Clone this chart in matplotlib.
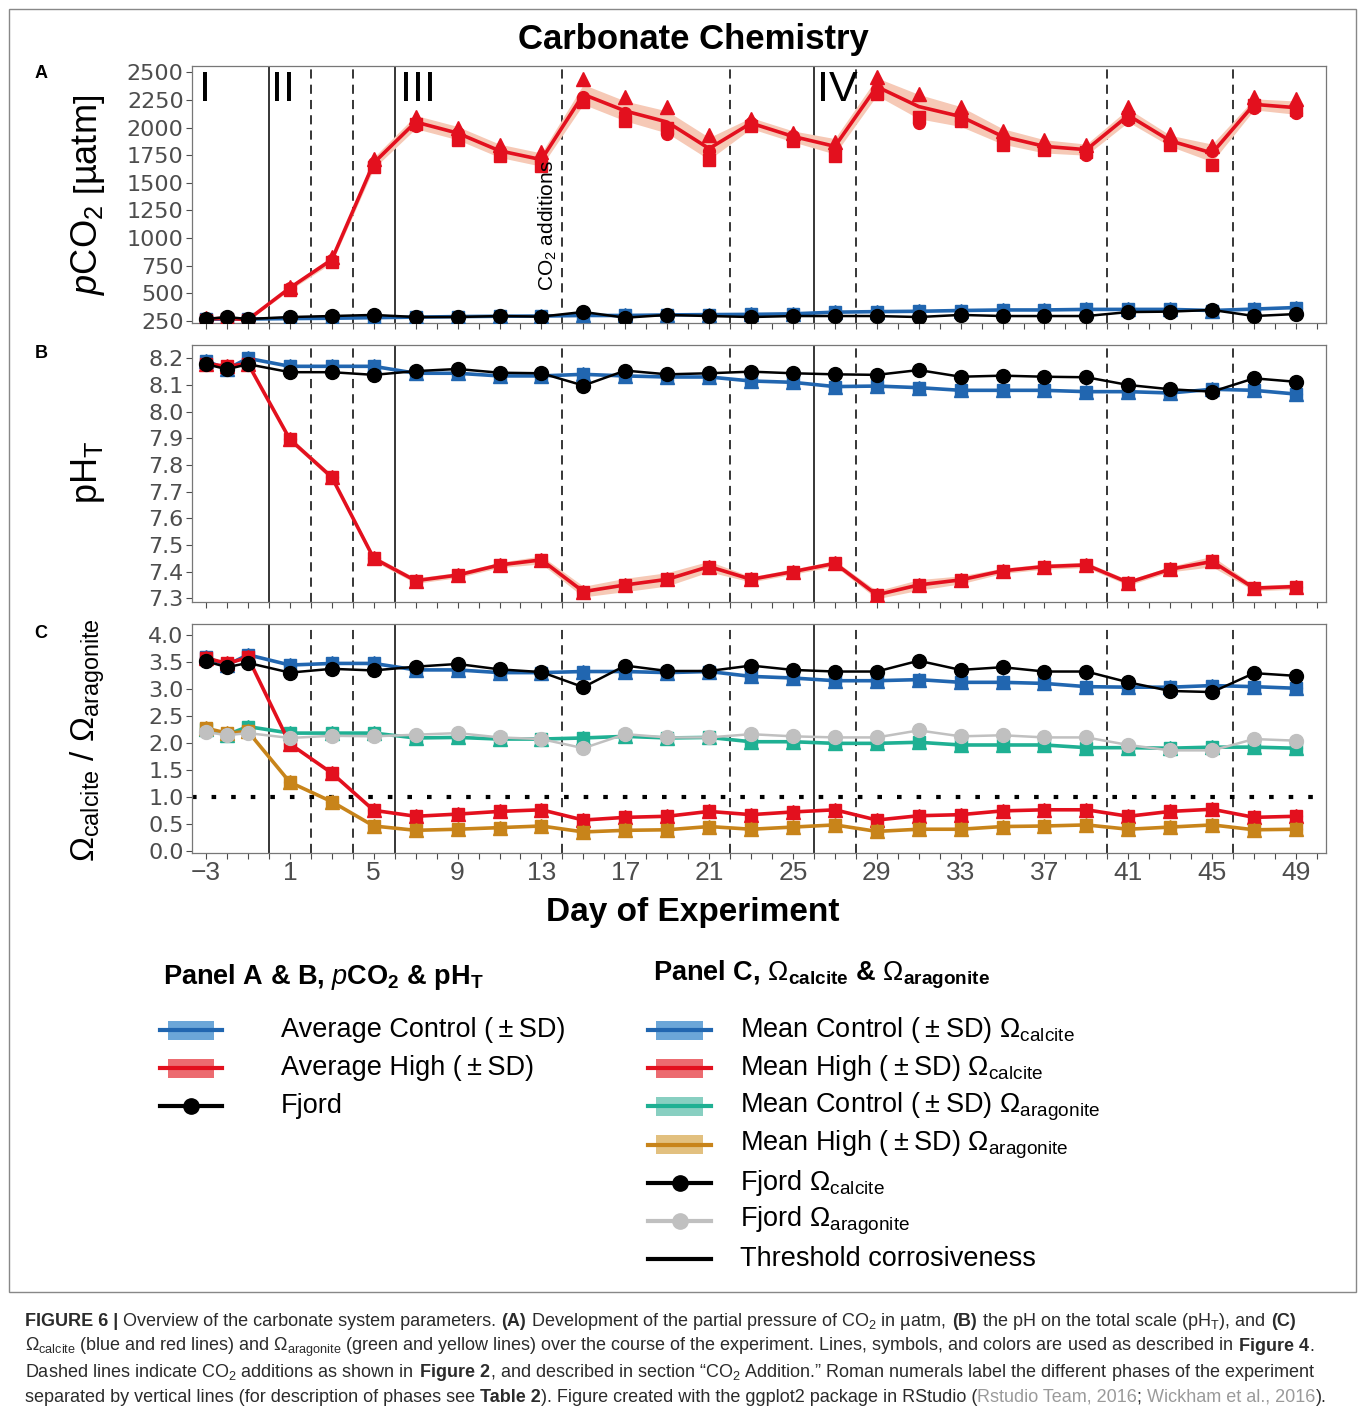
import numpy as np
import matplotlib
matplotlib.use("Agg")
import matplotlib.pyplot as plt
from matplotlib.patches import Rectangle
from matplotlib.lines import Line2D

matplotlib.rcParams['mathtext.fontset'] = 'custom'
matplotlib.rcParams['mathtext.rm'] = 'Liberation Sans'
matplotlib.rcParams['mathtext.it'] = 'Liberation Sans:italic'
matplotlib.rcParams['mathtext.bf'] = 'Liberation Sans:bold'

NARROW = ['Liberation Sans Narrow', 'Liberation Sans']
SANS = ['Liberation Sans', 'DejaVu Sans']

# ---------------------------------------------------------------- data
days = [-3, -2, -1, 1, 3, 5, 7, 9, 11, 13, 15, 17, 19, 21, 23, 25, 27, 29,
        31, 33, 35, 37, 39, 41, 43, 45, 47, 49]

# panel A, pCO2 (uatm)
ctrl_pco2 = [265, 268, 268, 272, 275, 280, 285, 290, 293, 295, 300, 300, 305, 308,
             310, 315, 330, 335, 338, 345, 350, 350, 355, 355, 355, 345, 358, 372]
high_pco2 = [268, 275, 262, 550, 805, 1680, 2050, 1950, 1790, 1710, 2300, 2150, 2050, 1810,
             2040, 1920, 1830, 2370, 2190, 2100, 1920, 1830, 1800, 2110, 1880, 1770, 2210, 2180]
high_pco2_sd = [10, 10, 10, 20, 30, 50, 60, 60, 60, 60, 90, 90, 100, 100,
                50, 50, 70, 80, 110, 90, 70, 60, 50, 60, 50, 80, 50, 60]
high_pco2_tri = [275, 280, 265, 560, 830, 1720, 2100, 2000, 1845, 1775, 2435, 2275, 2190, 1930,
                 2080, 1955, 1865, 2460, 2300, 2190, 1965, 1890, 1845, 2190, 1940, 1830, 2280, 2255]
high_pco2_sq = [262, 270, 258, 535, 780, 1640, 2030, 1890, 1740, 1650, 2230, 2055, 2000, 1710,
                2010, 1875, 1740, 2300, 2100, 2055, 1845, 1800, 1780, 2100, 1845, 1665, 2200, 2160]
high_pco2_circ = [265, 272, 262, 545, 800, 1680, 2010, 1950, 1790, 1700, 2280, 2130, 1940, 1790,
                  2040, 1920, 1800, 2350, 2045, 2060, 1900, 1810, 1755, 2070, 1870, 1790, 2180, 2135]
fjord_pco2 = [268, 286, 268, 286, 295, 305, 286, 286, 295, 290, 332, 280, 305, 295,
              286, 295, 295, 295, 286, 305, 295, 295, 295, 331, 335, 350, 295, 313]

# panel B, pH total scale
ctrl_ph = [8.19, 8.16, 8.20, 8.17, 8.17, 8.17, 8.144, 8.144, 8.134, 8.134, 8.14, 8.134, 8.13, 8.13,
           8.115, 8.11, 8.094, 8.096, 8.09, 8.08, 8.08, 8.08, 8.075, 8.075, 8.07, 8.084, 8.08, 8.066]
high_ph = [8.18, 8.17, 8.18, 7.896, 7.754, 7.45, 7.366, 7.387, 7.425, 7.444, 7.325, 7.35, 7.371, 7.419,
           7.371, 7.40, 7.431, 7.313, 7.35, 7.369, 7.403, 7.419, 7.425, 7.359, 7.409, 7.438, 7.338, 7.344]
high_ph_sd = [0.005, 0.005, 0.005, 0.01, 0.01, 0.01, 0.01, 0.01, 0.01, 0.015, 0.02, 0.025, 0.025, 0.02,
              0.01, 0.01, 0.01, 0.015, 0.02, 0.015, 0.01, 0.01, 0.01, 0.01, 0.01, 0.02, 0.01, 0.01]
fjord_ph = [8.178, 8.159, 8.178, 8.148, 8.148, 8.138, 8.152, 8.16, 8.146, 8.144, 8.098, 8.154, 8.14, 8.144,
            8.15, 8.144, 8.14, 8.138, 8.156, 8.131, 8.135, 8.131, 8.129, 8.10, 8.084, 8.075, 8.125, 8.112]

# panel C, saturation states
ctrl_cal = [3.58, 3.44, 3.63, 3.44, 3.47, 3.47, 3.35, 3.35, 3.30, 3.30, 3.32, 3.32, 3.30, 3.32,
            3.23, 3.20, 3.15, 3.15, 3.17, 3.12, 3.12, 3.10, 3.04, 3.03, 3.03, 3.06, 3.04, 3.01]
high_cal = [3.57, 3.47, 3.58, 1.98, 1.44, 0.75, 0.64, 0.68, 0.73, 0.76, 0.57, 0.62, 0.64, 0.73,
            0.67, 0.72, 0.76, 0.57, 0.65, 0.67, 0.74, 0.76, 0.76, 0.64, 0.73, 0.77, 0.62, 0.64]
ctrl_ara = [2.25, 2.15, 2.30, 2.18, 2.18, 2.18, 2.09, 2.10, 2.07, 2.07, 2.09, 2.12, 2.09, 2.10,
            2.02, 2.02, 1.99, 1.99, 2.01, 1.96, 1.96, 1.96, 1.91, 1.91, 1.90, 1.92, 1.92, 1.90]
high_ara = [2.27, 2.18, 2.21, 1.27, 0.91, 0.46, 0.38, 0.40, 0.43, 0.46, 0.35, 0.38, 0.39, 0.45,
            0.40, 0.44, 0.48, 0.36, 0.40, 0.40, 0.45, 0.46, 0.48, 0.40, 0.44, 0.48, 0.39, 0.40]
fjord_cal = [3.51, 3.40, 3.48, 3.30, 3.37, 3.34, 3.41, 3.46, 3.36, 3.31, 3.03, 3.43, 3.33, 3.33,
             3.43, 3.35, 3.32, 3.32, 3.52, 3.35, 3.40, 3.32, 3.32, 3.12, 2.96, 2.94, 3.29, 3.24]
fjord_ara = [2.20, 2.14, 2.18, 2.09, 2.13, 2.12, 2.15, 2.18, 2.10, 2.07, 1.90, 2.16, 2.10, 2.10,
             2.16, 2.12, 2.10, 2.10, 2.23, 2.12, 2.14, 2.10, 2.10, 1.96, 1.86, 1.86, 2.07, 2.04]
threshold = 1.0

phase_lines = [0, 6, 26]
co2_additions = [2, 4, 14, 22, 28, 40, 46]
phase_labels = ['I', 'II', 'III', 'IV']
phase_label_x = [-3.35, 0.1, 6.25, 26.15]

# ---------------------------------------------------------------- colours
BLUE, BLUE_RIB = '#2166b0', '#c9cbe6'
RED, RED_RIB = '#e3101e', '#f6c9b6'
TEAL = '#1fb093'
ORANGE = '#c8841a'
GREY = '#c0c0c0'
TICK = '#4d4d4d'

W, H = 1358, 1413
fig = plt.figure(figsize=(W / 100, H / 100), dpi=100)


def box(left, top, right, bottom):
    return [left / W, 1 - bottom / H, (right - left) / W, (bottom - top) / H]


axA = fig.add_axes(box(192, 66, 1326, 323))
axB = fig.add_axes(box(192, 345, 1326, 602))
axC = fig.add_axes(box(192, 624, 1326, 853))

xt = list(range(-3, 51))
xl = [('\u2212%d' % -d if d < 0 else str(d)) if (d + 3) % 4 == 0 else '' for d in xt]

for ax in (axA, axB, axC):
    ax.set_xlim(-3.67, 50.43)
    ax.set_xticks(xt)
    ax.set_xticklabels(xl if ax is axC else [''] * len(xt))
    ax.tick_params(axis='both', length=4, width=0.8, color=TICK, labelcolor=TICK, pad=2)
    for s in ax.spines.values():
        s.set_color('#777777')
        s.set_linewidth(0.9)
    for d in phase_lines:
        ax.axvline(d, color='black', lw=1.1, zorder=1)
    for d in co2_additions:
        ax.axvline(d, color='black', lw=1.1, ls=(0, (6, 4)), zorder=1)
for lab in axC.get_xticklabels():
    lab.set_fontfamily(NARROW)
    lab.set_fontsize(19)


def treatment(ax, y, col, rib=None, sd=None, tri=None, sq=None, circ=None, lw=2.6, ms=10):
    y = np.array(y)
    if sd is not None:
        ax.fill_between(days, y - np.array(sd), y + np.array(sd), color=rib, lw=0, zorder=2)
    ax.plot(days, y, color=col, lw=lw, zorder=3)
    ax.plot(days, y if tri is None else tri, ls='none', marker='^', ms=ms, color=col, zorder=3)
    ax.plot(days, y if sq is None else sq, ls='none', marker='s', ms=ms - 1.5, color=col, zorder=3)
    ax.plot(days, y if circ is None else circ, ls='none', marker='o', ms=ms - 1.5, color=col, zorder=3)


def fjord(ax, y, col):
    ax.plot(days, y, color=col, lw=1.8, marker='o', ms=10, zorder=4)


def yfont(ax):
    for lab in ax.get_yticklabels():
        lab.set_fontfamily('DejaVu Sans')
        lab.set_fontsize(16)


# panel A
treatment(axA, ctrl_pco2, BLUE)
treatment(axA, high_pco2, RED, RED_RIB, high_pco2_sd, high_pco2_tri, high_pco2_sq, high_pco2_circ)
fjord(axA, fjord_pco2, 'black')
axA.set_ylim(232, 2557)
axA.set_yticks(range(250, 2501, 250))
yfont(axA)
for lab, xp in zip(phase_labels, phase_label_x):
    axA.text(xp, 2340, lab, fontsize=31, family=SANS, ha='left', va='center', zorder=5)
axA.text(13.85, 1110, 'CO$_2$ additions', rotation=90, fontsize=15, family=SANS,
         ha='right', va='center', zorder=5)

# panel B
treatment(axB, ctrl_ph, BLUE)
treatment(axB, high_ph, RED, RED_RIB, high_ph_sd)
fjord(axB, fjord_ph, 'black')
axB.set_ylim(7.286, 8.25)
axB.set_yticks(np.arange(7.3, 8.21, 0.1))
axB.set_yticklabels(['%.1f' % v for v in np.arange(7.3, 8.21, 0.1)])
yfont(axB)

# panel C
axC.axhline(threshold, color='black', lw=3, ls=(0, (1.1, 3.6)), zorder=2)
treatment(axC, ctrl_cal, BLUE)
treatment(axC, ctrl_ara, TEAL)
treatment(axC, high_cal, RED)
treatment(axC, high_ara, ORANGE)
fjord(axC, fjord_cal, 'black')
fjord(axC, fjord_ara, GREY)
axC.set_ylim(-0.04, 4.2)
axC.set_yticks(np.arange(0, 4.01, 0.5))
axC.set_yticklabels(['%.1f' % v for v in np.arange(0, 4.01, 0.5)])
yfont(axC)

# ---------------------------------------------------------------- overlay text
ov = fig.add_axes([0, 0, 1, 1], zorder=10)
ov.set_xlim(0, W)
ov.set_ylim(H, 0)
ov.axis('off')
ov.patch.set_alpha(0)

ov.add_patch(Rectangle((8.5, 8.5), 1347, 1283, fill=False, ec='#888888', lw=1))

ov.text(693, 40, 'Carbonate Chemistry', fontsize=25, fontweight='bold', family=NARROW,
        ha='center', va='center')
ov.text(693, 912, 'Day of Experiment', fontsize=24, fontweight='bold', family=NARROW,
        ha='center', va='center')
for lab, yy in zip(['A', 'B', 'C'], [73, 353, 634]):
    ov.text(41, yy, lab, fontsize=13, fontweight='bold', family=SANS, ha='center', va='center')

ov.text(88, 195, r'$p$CO$_2$ $\left[\mathrm{µatm}\right]$', fontsize=26, family=NARROW,
        rotation=90, ha='center', va='center')
ov.text(88, 472, r'pH$_\mathrm{T}$', fontsize=26, family=NARROW, rotation=90,
        ha='center', va='center')
ov.text(88, 740, r'$\Omega_\mathrm{calcite}$ / $\Omega_\mathrm{aragonite}$', fontsize=24,
        family=NARROW, rotation=90, ha='center', va='center')

# legends
ov.text(163, 977, r'Panel A & B, $\mathit{p}$CO$_\mathbf{2}$ & pH$_\mathbf{T}$', fontsize=19.5,
        fontweight='bold', family=SANS, ha='left', va='center')
ov.text(653, 975, r'Panel C, $\Omega_\mathbf{calcite}$ & $\Omega_\mathbf{aragonite}$', fontsize=19.5,
        fontweight='bold', family=SANS, ha='left', va='center')


def key_band(x0, x1, y, line, fill):
    ov.add_patch(Rectangle((x0 + 8, y - 9.5), x1 - x0 - 16, 19, color=fill, lw=0))
    ov.add_line(Line2D([x0, x1], [y, y], color=line, lw=3))


def key_point(x0, x1, y, col, marker=True):
    ov.add_line(Line2D([x0, x1], [y, y], color=col, lw=3))
    if marker:
        ov.add_line(Line2D([(x0 + x1) / 2], [y], color=col, marker='o', ms=11))


PM = '(\u2009\u00b1\u2009SD)'
left_labels = ['Average Control ' + PM, 'Average High ' + PM, 'Fjord']
for i, lab in enumerate(left_labels):
    yy = 1030 + 38 * i
    if i == 0:
        key_band(160, 222, yy, BLUE, '#6ba6d8')
    elif i == 1:
        key_band(160, 222, yy, RED, '#ec6b70')
    else:
        key_point(160, 222, yy, 'black')
    ov.text(281, yy, lab, fontsize=19.5, family=SANS, ha='left', va='center')

right_labels = ['Mean Control ' + PM + r' $\Omega_\mathrm{calcite}$',
                'Mean High ' + PM + r' $\Omega_\mathrm{calcite}$',
                'Mean Control ' + PM + r' $\Omega_\mathrm{aragonite}$',
                'Mean High ' + PM + r' $\Omega_\mathrm{aragonite}$',
                r'Fjord $\Omega_\mathrm{calcite}$',
                r'Fjord $\Omega_\mathrm{aragonite}$',
                'Threshold corrosiveness']
bands = [(BLUE, '#6ba6d8'), (RED, '#ec6b70'), (TEAL, '#88cfc1'), (ORANGE, '#e2c07f')]
for i, lab in enumerate(right_labels):
    yy = 1030 + 38.2 * i
    if i < 4:
        key_band(648, 711, yy, *bands[i])
    elif i == 4:
        key_point(648, 711, yy, 'black')
    elif i == 5:
        key_point(648, 711, yy, GREY)
    else:
        key_point(648, 711, yy, 'black', marker=False)
    ov.text(740, yy, lab, fontsize=19.5, family=SANS, ha='left', va='center')

# caption
CAP = '#2b2b2b'
LINK = '#9a9a9a'
caption = [
    [('FIGURE 6 |', 'bold', CAP), (' Overview of the carbonate system parameters. ', 'normal', CAP),
     ('(A)', 'bold', CAP), (' Development of the partial pressure of CO$_2$ in \u00b5atm, ', 'normal', CAP),
     ('(B)', 'bold', CAP), (' the pH on the total scale (pH$_\\mathrm{T}$), and ', 'normal', CAP),
     ('(C)', 'bold', CAP)],
    [('$\\Omega_\\mathrm{calcite}$ (blue and red lines) and $\\Omega_\\mathrm{aragonite}$ (green and yellow '
      'lines) over the course of the experiment. Lines, symbols, and colors are used as described in ',
      'normal', CAP), ('Figure 4', 'bold', CAP), ('.', 'normal', CAP)],
    [('Dashed lines indicate CO$_2$ additions as shown in ', 'normal', CAP), ('Figure 2', 'bold', CAP),
     (', and described in section \u201cCO$_2$ Addition.\u201d Roman numerals label the different phases '
      'of the experiment', 'normal', CAP)],
    [('separated by vertical lines (for description of phases see ', 'normal', CAP),
     ('Table 2', 'bold', CAP), ('). Figure created with the ggplot2 package in RStudio (', 'normal', CAP),
     ('Rstudio Team, 2016', 'normal', LINK), ('; ', 'normal', CAP),
     ('Wickham et al., 2016', 'normal', LINK), (').', 'normal', CAP)],
]
CAP_SIZE = 13
renderer = fig.canvas.get_renderer()


def text_width(s, w='normal'):
    t = ov.text(0, 0, s, fontsize=CAP_SIZE, fontweight=w, family=SANS)
    wd = t.get_window_extent(renderer=renderer).width
    t.remove()
    return wd


space_w = text_width('a a') - text_width('aa')
for i, runs in enumerate(caption):
    x = 25
    yy = 1326 + 25.3 * i
    for s, w, c in runs:
        t = ov.text(x, yy, s, fontsize=CAP_SIZE, fontweight=w, color=c, family=SANS,
                    ha='left', va='baseline')
        x += t.get_window_extent(renderer=renderer).width
        if '$' in s and s.endswith(' '):
            x += space_w

fig.savefig('out.png', dpi=100)
